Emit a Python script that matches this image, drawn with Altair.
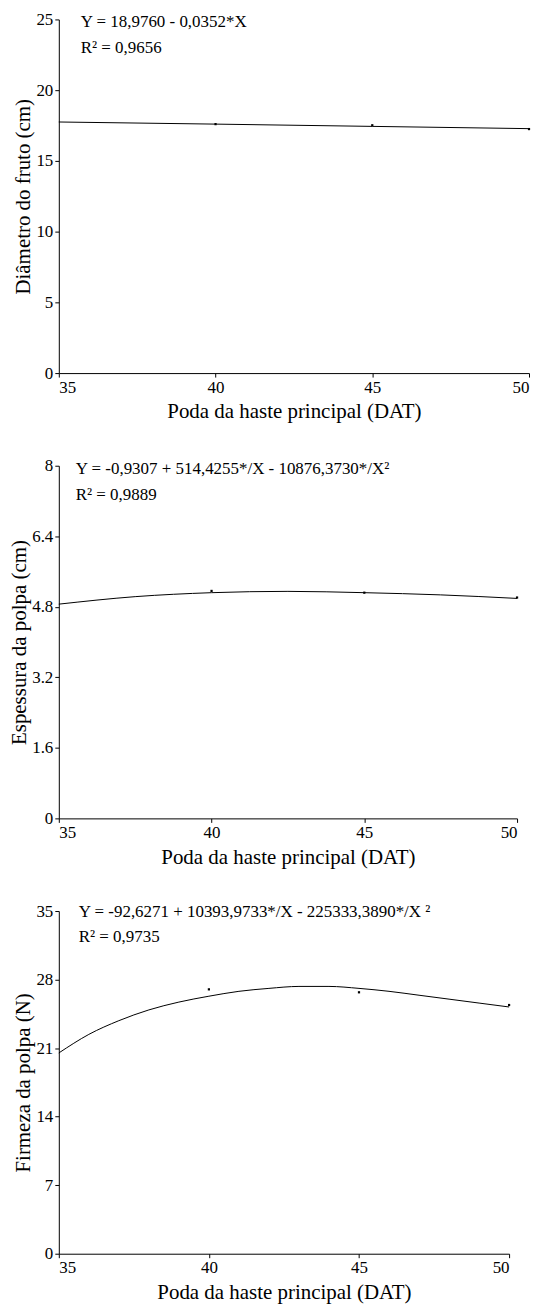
import altair as alt
import pandas as pd

FONT = "Liberation Serif"
X_TITLE = "Poda da haste principal (DAT)"
X_TICKS = [35, 40, 45, 50]

# ---- Panel 1: Diâmetro do fruto ----
p1_fit_x = [35, 40, 45, 50]
p1_fit_y = [17.75, 17.60, 17.44, 17.28]
p1_obs_x = [40, 45, 50]
p1_obs_y = [17.60, 17.52, 17.25]
p1_yticks = [0, 5, 10, 15, 20, 25]
p1_title = "Diâmetro do fruto (cm)"
p1_eq = "Y = 18,9760 - 0,0352*X"
p1_r2 = "R² = 0,9656"

# ---- Panel 2: Espessura da polpa ----
p2_fit_x = [35, 37.5, 40, 42.5, 45, 47.5, 50]
p2_fit_y = [4.86, 5.03, 5.12, 5.15, 5.12, 5.07, 4.99]
p2_obs_x = [40, 45, 50]
p2_obs_y = [5.16, 5.12, 5.01]
p2_yticks = [0, 1.6, 3.2, 4.8, 6.4, 8]
p2_title = "Espessura da polpa (cm)"
p2_eq = "Y = -0,9307 + 514,4255*/X - 10876,3730*/X²"
p2_r2 = "R² = 0,9889"

# ---- Panel 3: Firmeza da polpa ----
p3_fit_x = [35, 36, 37, 38, 39, 40, 41, 42, 43, 44, 45, 46, 47, 48, 49, 50]
p3_fit_y = [20.5, 22.4, 23.8, 24.9, 25.7, 26.3, 26.8, 27.1, 27.3, 27.3, 27.1, 26.8, 26.4, 26.0, 25.6, 25.2]
p3_obs_x = [40, 45, 50]
p3_obs_y = [27.0, 26.7, 25.4]
p3_yticks = [0, 7, 14, 21, 28, 35]
p3_title = "Firmeza da polpa (N)"
p3_eq = "Y = -92,6271 + 10393,9733*/X - 225333,3890*/X ²"
p3_r2 = "R² = 0,9735"


def panel(fit_x, fit_y, obs_x, obs_y, yticks, ytitle, eq, r2, w, h, tx, ty1, ty2):
    fit = pd.DataFrame({"x": fit_x, "y": fit_y})
    obs = pd.DataFrame({"x": obs_x, "y": obs_y})
    axis_style = dict(
        grid=False, domainColor="black", domainWidth=1, tickColor="black", tickSize=4,
        labelColor="black", titleColor="black", labelFont=FONT, titleFont=FONT,
        labelFontSize=17, titleFontSize=21, titleFontWeight="normal",
        labelPadding=2,
    )
    xenc = alt.X(
        "x:Q",
        scale=alt.Scale(domain=[35, 50], nice=False, zero=False),
        axis=alt.Axis(values=X_TICKS, title=X_TITLE, format="d", titlePadding=6, **axis_style),
    )
    yenc = alt.Y(
        "y:Q",
        scale=alt.Scale(domain=[yticks[0], yticks[-1]], nice=False),
        axis=alt.Axis(values=yticks, title=ytitle, format=".2~f", titlePadding=2, **axis_style),
    )
    line = alt.Chart(fit).mark_line(color="black", strokeWidth=1, interpolate="monotone").encode(x=xenc, y=yenc)
    pts = alt.Chart(obs).mark_square(color="black", size=5, opacity=1).encode(x=xenc, y=yenc)
    txt = pd.DataFrame({"t": [eq, r2], "py": [ty1, ty2]})
    text = alt.Chart(txt).mark_text(
        align="left", baseline="middle", font=FONT, fontSize=17, color="black"
    ).encode(x=alt.value(tx), y=alt.Y("py:Q", scale=None), text="t:N")
    return alt.layer(line, pts, text).properties(width=w, height=h)


c1 = panel(p1_fit_x, p1_fit_y, p1_obs_x, p1_obs_y, p1_yticks, p1_title, p1_eq, p1_r2,
           472, 355, 22, 3, 29)
c2 = panel(p2_fit_x, p2_fit_y, p2_obs_x, p2_obs_y, p2_yticks, p2_title, p2_eq, p2_r2,
           460, 354, 17, 3, 29)
c3 = panel(p3_fit_x, p3_fit_y, p3_obs_x, p3_obs_y, p3_yticks, p3_title, p3_eq, p3_r2,
           452, 344, 20, 1, 26)

chart = (
    alt.vconcat(c1, c2, c3, spacing=35)
    .properties(padding={"left": 0, "top": 0, "right": 0, "bottom": 0})
    .configure_view(stroke=None)
)

chart.save("out.html", embed_options={"renderer": "svg", "actions": False})
